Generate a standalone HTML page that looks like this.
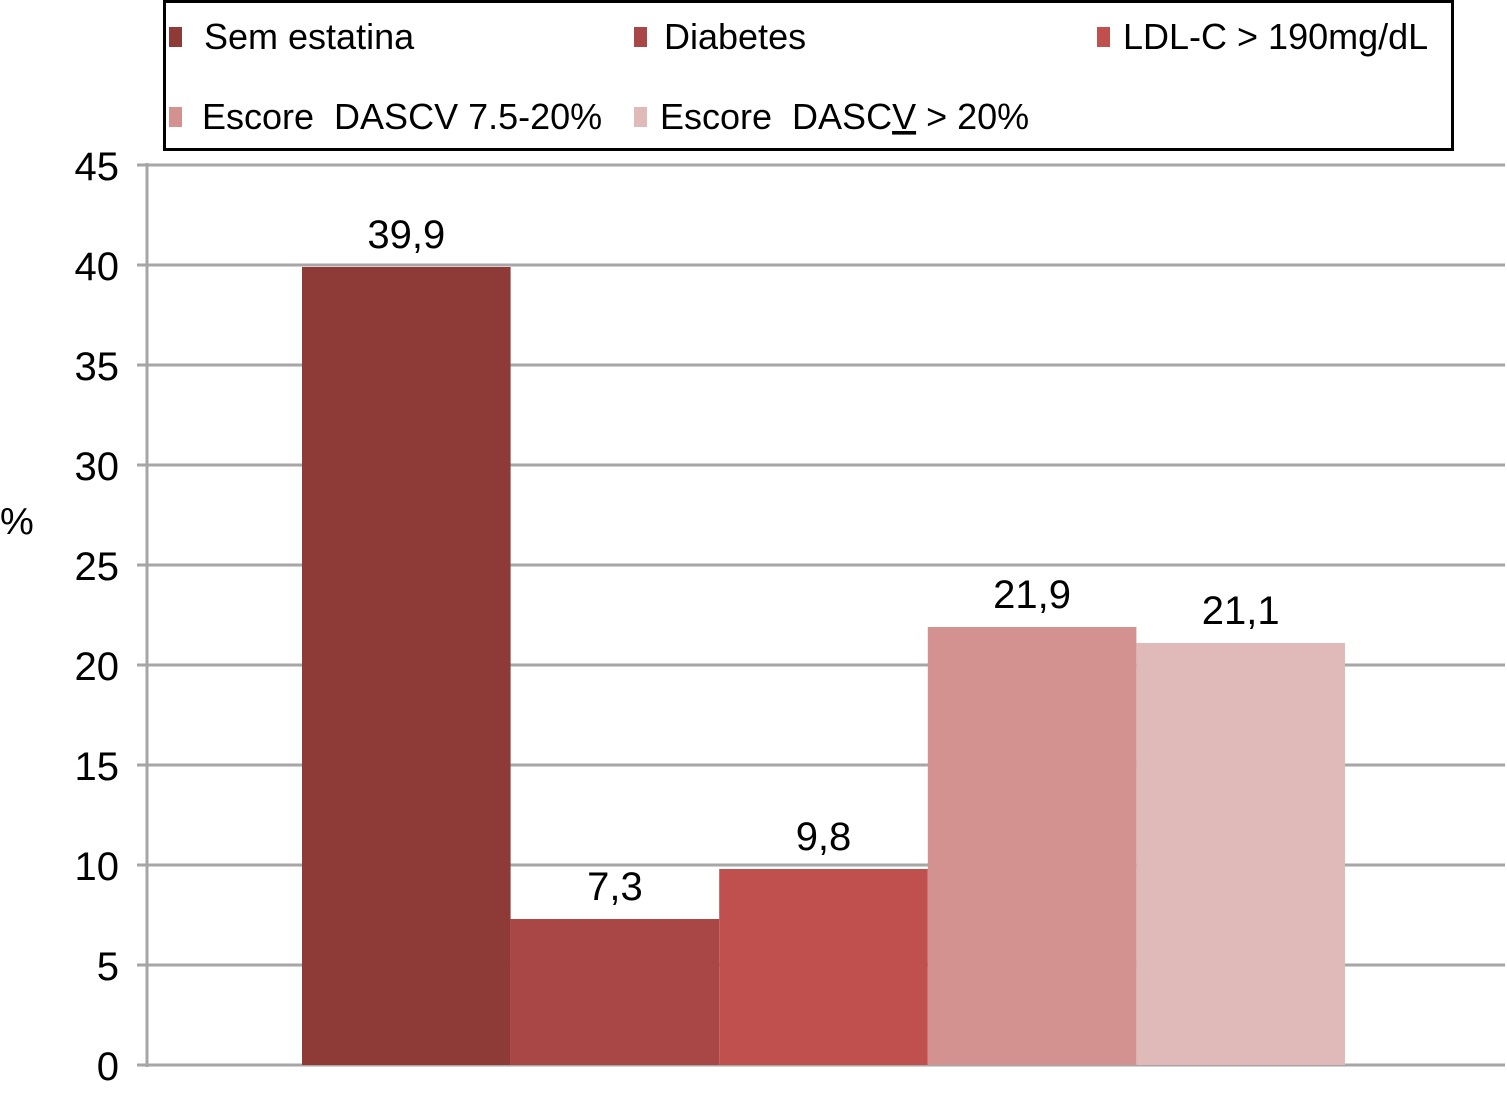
<!DOCTYPE html>
<html><head><meta charset="utf-8"><style>
body{margin:0;background:#fff;width:1507px;height:1094px;overflow:hidden;font-family:"Liberation Sans",sans-serif}
svg text{font-family:"Liberation Sans",sans-serif}
</style></head><body>
<svg id="c" width="1507" height="1094">
<rect x="164.5" y="1.5" width="1288" height="148" fill="#fff" stroke="#000" stroke-width="3"/>
</svg>
<script>
const categories=["Sem estatina","Diabetes","LDL-C > 190mg/dL","Escore  DASCV 7.5-20%","Escore  DASCV > 20%"];
const values=[39.9,7.3,9.8,21.9,21.1];
const valueLabels=["39,9","7,3","9,8","21,9","21,1"];
const ticks=[0,5,10,15,20,25,30,35,40,45];
const colors=["#8e3a37","#a84745","#c0504d","#d39190","#e0b9b9"];
const NS="http://www.w3.org/2000/svg",svg=document.getElementById('c');
const y0=1065,yPx=20,x0=147,bx=302,bw=208.6;
const y=v=>y0-v*yPx;
function el(t,a,p){const e=document.createElementNS(NS,t);for(const k in a)e.setAttribute(k,a[k]);(p||svg).appendChild(e);return e;}
ticks.forEach(t=>{
 const g=el('line',{x1:137,x2:1505,y1:y(t),y2:y(t),stroke:'#a6a6a6','stroke-width':3});
 
 
 const l=el('text',{x:119,y:y(t)+15,'text-anchor':'end','font-size':40,fill:'#000'});l.textContent=t;
 
 
});
const ax=el('line',{x1:x0,x2:x0,y1:y(45)-2,y2:y0+2,stroke:'#a6a6a6','stroke-width':3});


const yt=el('text',{x:0,y:534,'font-size':38});yt.textContent='%';


values.forEach((v,i)=>{
 const r=el('rect',{x:bx+i*bw,y:y(v),width:bw,height:y0-y(v),fill:colors[i]});
 
 
 const t=el('text',{x:bx+i*bw+bw/2,y:y(v)-19,'text-anchor':'middle','font-size':40});t.textContent=valueLabels[i];
 
 
});
const lpos=[[169,204,49],[634,664,49],[1097,1123,49],[169,202,129],[634,660,129]];
categories.forEach((c,i)=>{
 const [sx,tx,by]=lpos[i];
 const s=el('rect',{x:sx,y:by-22,width:13,height:20,fill:colors[i]});
 
 
 const t=el('text',{x:tx,y:by,'font-size':36});
 
 
 t.setAttribute('style','white-space:pre');
 if(i===4){t.innerHTML='Escore  DASC<tspan text-decoration="underline">V</tspan> &gt; 20%';}
 else{t.textContent=c;}
});
</script>
</body></html>
